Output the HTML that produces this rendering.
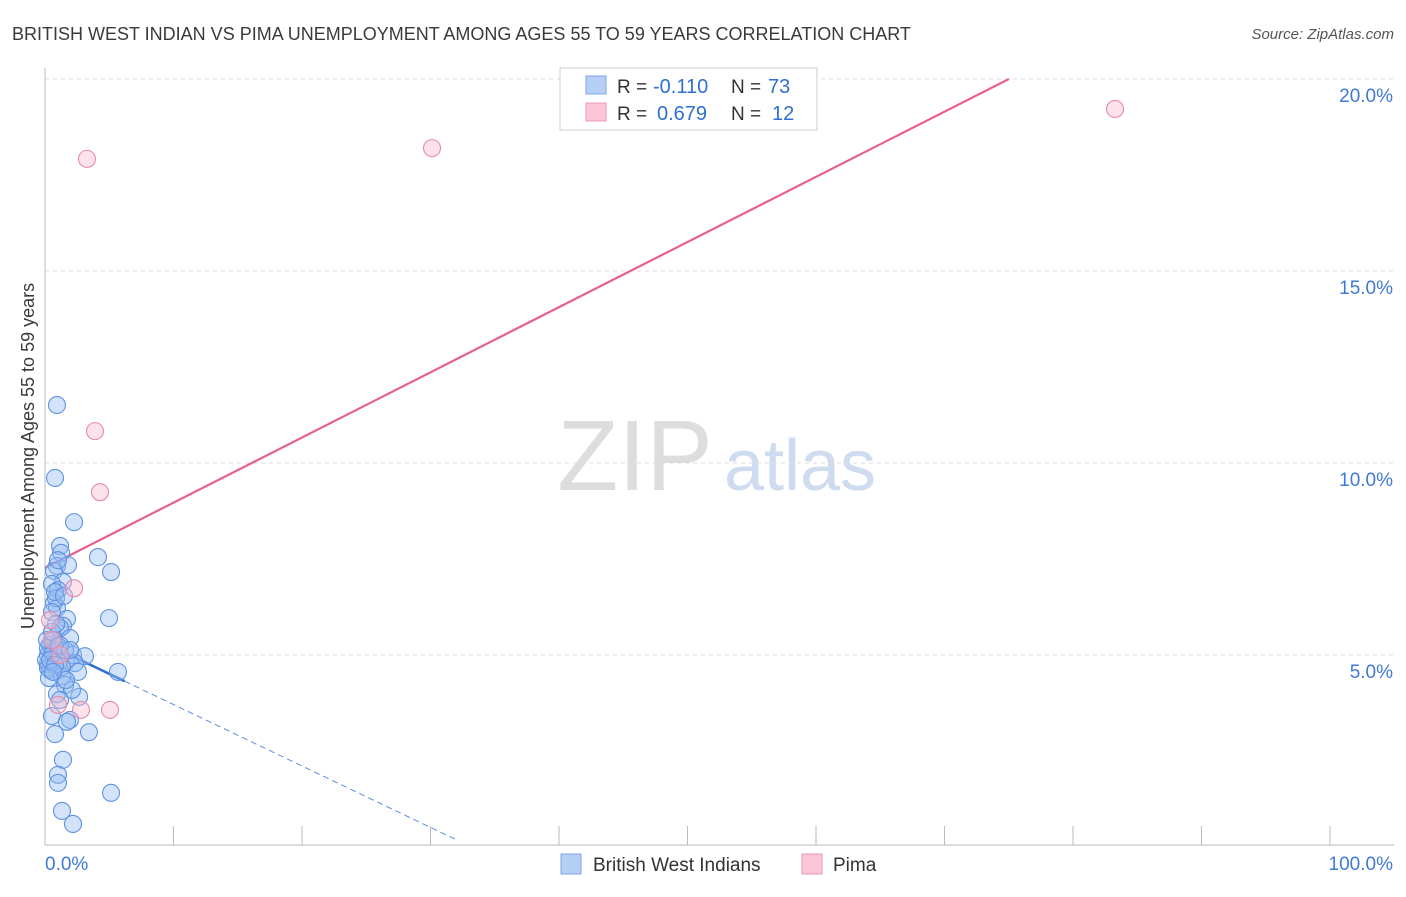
<!DOCTYPE html>
<html><head><meta charset="utf-8"><style>
body{margin:0;background:#fff;font-family:"Liberation Sans",sans-serif;}
svg text{font-family:"Liberation Sans",sans-serif;}
</style></head><body>
<svg id="chart" width="1406" height="892">
<text x="12" y="40" font-size="18" fill="#3a3a3a">BRITISH WEST INDIAN VS PIMA UNEMPLOYMENT AMONG AGES 55 TO 59 YEARS CORRELATION CHART</text>
<text x="1394" y="39" font-size="15" fill="#555" text-anchor="end" font-style="italic">Source: ZipAtlas.com</text>
<text x="34" y="456" font-size="18" fill="#3a3a3a" text-anchor="middle" transform="rotate(-90 34 456)">Unemployment Among Ages 55 to 59 years</text>
<g><text x="635" y="490" font-size="100" fill="#ddd" text-anchor="middle" font-family="Liberation Serif">ZIP</text><text x="800" y="490" font-size="72" fill="#cfdcef" text-anchor="middle">atlas</text></g>
<g id="grid"></g><g id="axes"></g><g id="lines"></g><g id="pts"></g>
<g>
<rect x="560" y="68" width="257" height="62" fill="#fff" stroke="#ccc"/>
<rect x="586" y="76" width="20" height="18" fill="#b5cff5" stroke="#7aa5e6"/>
<rect x="586" y="103" width="20" height="18" fill="#fac6d6" stroke="#ee9ab5"/>
<text x="617" y="93" font-size="19" fill="#333">R =</text>
<text x="653" y="93" font-size="20" fill="#2f6fd6">-0.110</text>
<text x="731" y="93" font-size="19" fill="#333">N =</text>
<text x="768" y="93" font-size="20" fill="#2f6fd6">73</text>
<text x="617" y="120" font-size="19" fill="#333">R =</text>
<text x="657" y="120" font-size="20" fill="#2f6fd6">0.679</text>
<text x="731" y="120" font-size="19" fill="#333">N =</text>
<text x="772" y="120" font-size="20" fill="#2f6fd6">12</text>
</g>
<g>
<rect x="561" y="854" width="20" height="20" fill="#b5cff5" stroke="#7aa5e6"/>
<text x="593" y="871" font-size="19" fill="#333">British West Indians</text>
<rect x="802" y="854" width="20" height="20" fill="#fac6d6" stroke="#ee9ab5"/>
<text x="833" y="871" font-size="19" fill="#333">Pima</text>
</g>
</svg>
<script>
const yTicks=[5,10,15,20];
const yTickLabels=["5.0%","10.0%","15.0%","20.0%"];
const xTickLabels=["0.0%","100.0%"];
const blueX=[0.93,0.78,2.26,1.17,1.25,0.93,1.79,0.70,4.12,5.14,1.40,0.54,1.01,0.70,0.93,1.71,1.40,1.17,1.95,4.98,0.70,0.39,0.54,0.23,0.86,1.17,1.63,2.18,3.11,2.33,0.23,0.39,5.68,2.57,1.32,1.56,2.65,0.93,0.54,1.95,1.71,3.42,0.78,1.40,1.01,1.01,1.32,5.14,2.18,0.08,0.23,0.16,0.54,0.86,0.54,0.78,1.32,0.23,0.62,1.01,1.56,1.17,0.39,0.78,2.10,1.17,0.86,1.48,1.63,0.31,1.01,1.95,0.62];
const blueY=[11.51,9.61,8.46,7.84,7.66,7.32,7.34,7.19,7.55,7.16,6.90,6.85,6.69,6.35,6.22,5.94,5.76,5.70,5.44,5.96,5.39,5.26,5.13,5.00,4.92,4.87,4.82,5.00,4.97,4.79,4.77,4.61,4.56,4.56,4.45,4.22,3.91,3.98,3.41,3.31,3.26,2.99,2.94,2.27,1.88,1.67,0.94,1.41,0.60,4.87,5.18,5.39,5.60,6.48,6.12,6.64,4.69,4.66,5.05,5.23,5.13,5.26,4.87,4.74,4.09,3.83,5.81,6.54,4.35,4.40,7.47,5.13,4.56];
const pinkX=[3.27,30.12,83.27,3.89,4.28,2.26,1.01,2.80,5.06,0.54,1.17,0.39];
const pinkY=[17.92,18.20,19.22,10.83,9.24,6.74,3.70,3.57,3.57,5.39,5.00,5.91];
const pinkTrend=[7.27,0.1697];
const blueTrend=[5.31,-0.16];
const NS="http://www.w3.org/2000/svg";
const X=v=>45+v*12.85, Y=v=>847-v*38.4;
function mk(p,t,a){const e=document.createElementNS(NS,t);for(const k in a)e.setAttribute(k,a[k]);document.getElementById(p).appendChild(e);return e;}
yTicks.forEach((t,i)=>{
 const g=mk('grid','line',{x1:45,x2:1394,y1:Y(t),y2:Y(t),stroke:'#ddd','stroke-dasharray':'4,4'});
 
 
 const l=mk('axes','text',{x:1393,y:Y(t)+23,'font-size':19,fill:'#3f7ad8','text-anchor':'end'});l.textContent=yTickLabels[i];
 
 
});
mk('axes','line',{x1:45,x2:45,y1:68,y2:845,stroke:'#bbb'});
mk('axes','line',{x1:45,x2:1394,y1:845,y2:845,stroke:'#bbb'});
for(let i=0;i<=10;i++){mk('axes','line',{x1:X(i*10),x2:X(i*10),y1:826,y2:845,stroke:'#bbb'});}
[[0,45,'start'],[1,1393,'end']].forEach(([i,x,a])=>{const t=mk('axes','text',{x:x,y:870,'font-size':19,fill:'#3f7ad8','text-anchor':a});t.textContent=xTickLabels[i];
 
 });
const pl=mk('lines','line',{x1:X(0),y1:Y(pinkTrend[0]),x2:X((20-pinkTrend[0])/pinkTrend[1]),y2:Y(20),stroke:'#e8608e','stroke-width':2.2});


const bl=mk('lines','line',{x1:X(0),y1:Y(blueTrend[0]),x2:X(6.2),y2:Y(blueTrend[0]+blueTrend[1]*6.2),stroke:'#2f6fd6','stroke-width':2.5});


const bd=mk('lines','line',{x1:X(6.2),y1:Y(blueTrend[0]+blueTrend[1]*6.2),x2:X(32),y2:Y(blueTrend[0]+blueTrend[1]*32),stroke:'#5b8ee0','stroke-width':1,'stroke-dasharray':'6,4'});


blueX.forEach((x,i)=>{const c=mk('pts','circle',{cx:X(x),cy:Y(blueY[i]),r:8.5,fill:'rgba(150,188,240,0.42)',stroke:'#5f92e2','stroke-width':1.1});
 
 });
pinkX.forEach((x,i)=>{const c=mk('pts','circle',{cx:X(x),cy:Y(pinkY[i]),r:8.5,fill:'rgba(248,185,205,0.42)',stroke:'#e88aa8','stroke-width':1.1});
 
 });
</script>
</body></html>
